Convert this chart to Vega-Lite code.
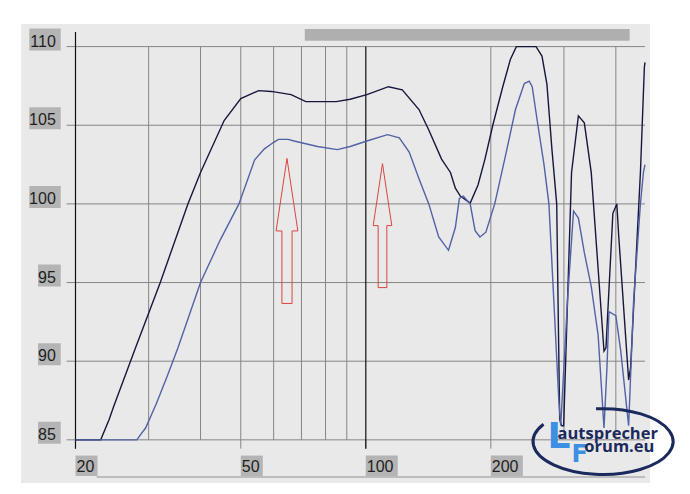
{
  "$schema": "https://vega.github.io/schema/vega-lite/v6.json",
  "width": 629,
  "height": 459,
  "autosize": {"type": "none"},
  "padding": {"left": 21, "top": 24, "right": 40, "bottom": 11},
  "background": "#ffffff",
  "config": {"view": {"fill": "#e9e9e9", "stroke": null}},
  "datasets": {
    "curves": [
      {"f": 20, "db": 85, "s": "dark"},
      {"f": 23.0, "db": 85, "s": "dark"},
      {"f": 24.1, "db": 86.3, "s": "dark"},
      {"f": 24.7, "db": 87.1, "s": "dark"},
      {"f": 27.9, "db": 90.85, "s": "dark"},
      {"f": 32.0, "db": 95.0, "s": "dark"},
      {"f": 37.3, "db": 100.0, "s": "dark"},
      {"f": 40.0, "db": 102.0, "s": "dark"},
      {"f": 45.6, "db": 105.3, "s": "dark"},
      {"f": 50.0, "db": 106.7, "s": "dark"},
      {"f": 55.2, "db": 107.2, "s": "dark"},
      {"f": 59.2, "db": 107.15, "s": "dark"},
      {"f": 66.1, "db": 106.95, "s": "dark"},
      {"f": 71.7, "db": 106.5, "s": "dark"},
      {"f": 84.9, "db": 106.5, "s": "dark"},
      {"f": 91.7, "db": 106.65, "s": "dark"},
      {"f": 100.6, "db": 106.95, "s": "dark"},
      {"f": 113.4, "db": 107.45, "s": "dark"},
      {"f": 122.4, "db": 107.25, "s": "dark"},
      {"f": 134.3, "db": 106.0, "s": "dark"},
      {"f": 141.8, "db": 104.7, "s": "dark"},
      {"f": 152.2, "db": 102.85, "s": "dark"},
      {"f": 159.9, "db": 102.0, "s": "dark"},
      {"f": 164.3, "db": 101.0, "s": "dark"},
      {"f": 168.9, "db": 100.5, "s": "dark"},
      {"f": 178.4, "db": 100.05, "s": "dark"},
      {"f": 186.3, "db": 101.2, "s": "dark"},
      {"f": 193.6, "db": 102.85, "s": "dark"},
      {"f": 202.2, "db": 105.0, "s": "dark"},
      {"f": 213.7, "db": 107.45, "s": "dark"},
      {"f": 223.0, "db": 109.2, "s": "dark"},
      {"f": 230.4, "db": 110, "s": "dark"},
      {"f": 257.0, "db": 110, "s": "dark"},
      {"f": 265.6, "db": 109.4, "s": "dark"},
      {"f": 273.0, "db": 107.6, "s": "dark"},
      {"f": 280.6, "db": 103.5, "s": "dark"},
      {"f": 288.2, "db": 100.0, "s": "dark"},
      {"f": 293.0, "db": 86.3, "s": "dark"},
      {"f": 296.3, "db": 85.9, "s": "dark"},
      {"f": 299.5, "db": 85.9, "s": "dark"},
      {"f": 312.9, "db": 102.0, "s": "dark"},
      {"f": 325.0, "db": 105.6, "s": "dark"},
      {"f": 335.9, "db": 105.15, "s": "dark"},
      {"f": 349.0, "db": 102.0, "s": "dark"},
      {"f": 374.6, "db": 90.65, "s": "dark"},
      {"f": 378.7, "db": 90.85, "s": "dark"},
      {"f": 393.5, "db": 99.4, "s": "dark"},
      {"f": 402.2, "db": 100.0, "s": "dark"},
      {"f": 406.6, "db": 97.9, "s": "dark"},
      {"f": 429.4, "db": 88.8, "s": "dark"},
      {"f": 434.1, "db": 89.6, "s": "dark"},
      {"f": 458.4, "db": 102.0, "s": "dark"},
      {"f": 468.6, "db": 108.7, "s": "dark"},
      {"f": 470.2, "db": 109.0, "s": "dark"},
      {"f": 20, "db": 85, "s": "blue"},
      {"f": 28.1, "db": 85, "s": "blue"},
      {"f": 28.8, "db": 85.4, "s": "blue"},
      {"f": 29.5, "db": 85.75, "s": "blue"},
      {"f": 31.3, "db": 87.3, "s": "blue"},
      {"f": 33.2, "db": 89.0, "s": "blue"},
      {"f": 35.3, "db": 90.85, "s": "blue"},
      {"f": 40.0, "db": 95.0, "s": "blue"},
      {"f": 44.6, "db": 97.7, "s": "blue"},
      {"f": 49.5, "db": 100.0, "s": "blue"},
      {"f": 54.0, "db": 102.8, "s": "blue"},
      {"f": 57.0, "db": 103.5, "s": "blue"},
      {"f": 59.9, "db": 103.9, "s": "blue"},
      {"f": 61.6, "db": 104.1, "s": "blue"},
      {"f": 65.0, "db": 104.1, "s": "blue"},
      {"f": 67.2, "db": 104.0, "s": "blue"},
      {"f": 76.5, "db": 103.65, "s": "blue"},
      {"f": 85.4, "db": 103.45, "s": "blue"},
      {"f": 91.7, "db": 103.65, "s": "blue"},
      {"f": 100.6, "db": 104.0, "s": "blue"},
      {"f": 112.8, "db": 104.4, "s": "blue"},
      {"f": 120.4, "db": 104.2, "s": "blue"},
      {"f": 127.2, "db": 103.3, "s": "blue"},
      {"f": 134.3, "db": 101.6, "s": "blue"},
      {"f": 141.8, "db": 100.0, "s": "blue"},
      {"f": 149.8, "db": 97.9, "s": "blue"},
      {"f": 158.2, "db": 97.05, "s": "blue"},
      {"f": 164.3, "db": 98.5, "s": "blue"},
      {"f": 168.0, "db": 100.35, "s": "blue"},
      {"f": 171.7, "db": 100.5, "s": "blue"},
      {"f": 178.4, "db": 100.0, "s": "blue"},
      {"f": 183.3, "db": 98.3, "s": "blue"},
      {"f": 188.3, "db": 97.9, "s": "blue"},
      {"f": 194.6, "db": 98.2, "s": "blue"},
      {"f": 204.4, "db": 100.0, "s": "blue"},
      {"f": 217.1, "db": 103.1, "s": "blue"},
      {"f": 229.3, "db": 106.0, "s": "blue"},
      {"f": 240.8, "db": 107.65, "s": "blue"},
      {"f": 247.5, "db": 107.8, "s": "blue"},
      {"f": 251.6, "db": 107.45, "s": "blue"},
      {"f": 258.5, "db": 105.35, "s": "blue"},
      {"f": 268.6, "db": 102.5, "s": "blue"},
      {"f": 276.0, "db": 100.0, "s": "blue"},
      {"f": 283.7, "db": 93.8, "s": "blue"},
      {"f": 291.5, "db": 87.55, "s": "blue"},
      {"f": 294.7, "db": 85.9, "s": "blue"},
      {"f": 306.1, "db": 93.95, "s": "blue"},
      {"f": 316.4, "db": 99.55, "s": "blue"},
      {"f": 325.0, "db": 99.1, "s": "blue"},
      {"f": 335.9, "db": 96.9, "s": "blue"},
      {"f": 349.0, "db": 94.75, "s": "blue"},
      {"f": 362.6, "db": 91.65, "s": "blue"},
      {"f": 374.6, "db": 85.75, "s": "blue"},
      {"f": 380.8, "db": 89.6, "s": "blue"},
      {"f": 385.0, "db": 93.15, "s": "blue"},
      {"f": 400.0, "db": 92.9, "s": "blue"},
      {"f": 411.0, "db": 90.66, "s": "blue"},
      {"f": 429.4, "db": 85.9, "s": "blue"},
      {"f": 441.3, "db": 93.8, "s": "blue"},
      {"f": 458.4, "db": 100.0, "s": "blue"},
      {"f": 466.1, "db": 102.0, "s": "blue"},
      {"f": 470.2, "db": 102.5, "s": "blue"}
    ],
    "hgrid": [
      {"db": 85, "label": "85"},
      {"db": 90, "label": "90"},
      {"db": 95, "label": "95"},
      {"db": 100, "label": "100"},
      {"db": 105, "label": "105"},
      {"db": 110, "label": "110"}
    ],
    "vgrid": [
      {"f": 30}, {"f": 40}, {"f": 50}, {"f": 60}, {"f": 70}, {"f": 80}, {"f": 90},
      {"f": 200}, {"f": 300}, {"f": 400}
    ],
    "xlabels": [
      {"f": 20, "label": "20"},
      {"f": 50, "label": "50"},
      {"f": 100, "label": "100"},
      {"f": 200, "label": "200"}
    ],
    "arrows": [
      {"f": 64.6, "db": 98.28, "name": "A"},
      {"f": 109.7, "db": 98.62, "name": "B"}
    ]
  },
  "layer": [
    {
      "data": {"values": [{}]},
      "mark": {"type": "rect", "color": "#afafaf"},
      "encoding": {
        "x": {"datum": 71.3, "scale": {"type": "log", "domain": [15.2, 470.2], "nice": false}, "axis": null},
        "x2": {"datum": 431.9},
        "y": {"datum": 111.12, "scale": {"type": "linear", "domain": [82.574, 111.119], "nice": false, "zero": false}, "axis": null},
        "y2": {"datum": 110.373}
      }
    },
    {
      "data": {"values": [{}]},
      "mark": {"type": "rect", "color": "#bdbdbd"},
      "encoding": {
        "x": {"datum": 22.5, "scale": {"type": "log", "domain": [15.2, 470.2], "nice": false}, "axis": null},
        "x2": {"datum": 470.2},
        "y": {"datum": 82.70, "scale": {"type": "linear", "domain": [82.574, 111.119], "nice": false, "zero": false}, "axis": null},
        "y2": {"datum": 82.574}
      }
    },
    {
      "data": {"name": "hgrid"},
      "mark": {"type": "rule", "color": "#868686", "strokeWidth": 1},
      "encoding": {
        "y": {"field": "db", "type": "quantitative", "scale": {"type": "linear", "domain": [82.574, 111.119], "nice": false, "zero": false}, "axis": null},
        "x": {"datum": 19.03, "scale": {"type": "log", "domain": [15.2, 470.2], "nice": false}, "axis": null},
        "x2": {"datum": 470.2}
      }
    },
    {
      "data": {"name": "vgrid"},
      "mark": {"type": "rule", "color": "#868686", "strokeWidth": 1},
      "encoding": {
        "x": {"field": "f", "type": "quantitative", "scale": {"type": "log", "domain": [15.2, 470.2], "nice": false}, "axis": null},
        "y": {"datum": 85, "scale": {"type": "linear", "domain": [82.574, 111.119], "nice": false, "zero": false}, "axis": null},
        "y2": {"datum": 110}
      }
    },
    {
      "data": {"name": "xlabels"},
      "mark": {"type": "rule", "color": "#868686", "strokeWidth": 1},
      "encoding": {
        "x": {"field": "f", "type": "quantitative", "scale": {"type": "log", "domain": [15.2, 470.2], "nice": false}, "axis": null},
        "y": {"datum": 84.44, "scale": {"type": "linear", "domain": [82.574, 111.119], "nice": false, "zero": false}, "axis": null},
        "y2": {"datum": 85}
      }
    },
    {
      "data": {"values": [{"f": 20}, {"f": 100}]},
      "mark": {"type": "rule", "color": "#111111", "strokeWidth": 1.2},
      "encoding": {
        "x": {"field": "f", "type": "quantitative", "scale": {"type": "log", "domain": [15.2, 470.2], "nice": false}, "axis": null},
        "y": {"datum": 84.44, "scale": {"type": "linear", "domain": [82.574, 111.119], "nice": false, "zero": false}, "axis": null},
        "y2": {"datum": 110}
      }
    },
    {
      "data": {"values": [{"f": 20}]},
      "mark": {"type": "rule", "color": "#111111", "strokeWidth": 1.2},
      "encoding": {
        "x": {"field": "f", "type": "quantitative", "scale": {"type": "log", "domain": [15.2, 470.2], "nice": false}, "axis": null},
        "y": {"datum": 110, "scale": {"type": "linear", "domain": [82.574, 111.119], "nice": false, "zero": false}, "axis": null},
        "y2": {"datum": 110.93}
      }
    },
    {
      "data": {"name": "hgrid"},
      "transform": [{"filter": "length(datum.label) == 3"}],
      "mark": {"type": "bar", "orient": "horizontal", "color": "#b4b4b4", "size": 22, "yOffset": -7},
      "encoding": {
        "y": {"field": "db", "type": "quantitative", "scale": {"type": "linear", "domain": [82.574, 111.119], "nice": false, "zero": false}, "axis": null},
        "x": {"datum": 15.48, "scale": {"type": "log", "domain": [15.2, 470.2], "nice": false}, "axis": null},
        "x2": {"datum": 18.43}
      }
    },
    {
      "data": {"name": "hgrid"},
      "transform": [{"filter": "length(datum.label) == 2"}],
      "mark": {"type": "bar", "orient": "horizontal", "color": "#b4b4b4", "size": 22, "yOffset": -7},
      "encoding": {
        "y": {"field": "db", "type": "quantitative", "scale": {"type": "linear", "domain": [82.574, 111.119], "nice": false, "zero": false}, "axis": null},
        "x": {"datum": 16.25, "scale": {"type": "log", "domain": [15.2, 470.2], "nice": false}, "axis": null},
        "x2": {"datum": 18.43}
      }
    },
    {
      "data": {"name": "hgrid"},
      "mark": {"type": "text", "align": "right", "baseline": "alphabetic", "font": "Liberation Sans", "fontSize": 16, "color": "#1e1e1e"},
      "encoding": {
        "y": {"field": "db", "type": "quantitative", "scale": {"type": "linear", "domain": [82.574, 111.119], "nice": false, "zero": false}, "axis": null},
        "x": {"datum": 17.93, "scale": {"type": "log", "domain": [15.2, 470.2], "nice": false}, "axis": null},
        "text": {"field": "label"}
      }
    },
    {
      "data": {"name": "xlabels"},
      "transform": [{"filter": "length(datum.label) == 2"}],
      "mark": {"type": "bar", "orient": "vertical", "color": "#b4b4b4", "size": 22, "xOffset": 11},
      "encoding": {
        "x": {"field": "f", "type": "quantitative", "scale": {"type": "log", "domain": [15.2, 470.2], "nice": false}, "axis": null},
        "y": {"datum": 84.0, "scale": {"type": "linear", "domain": [82.574, 111.119], "nice": false, "zero": false}, "axis": null},
        "y2": {"datum": 82.70}
      }
    },
    {
      "data": {"name": "xlabels"},
      "transform": [{"filter": "length(datum.label) == 3"}],
      "mark": {"type": "bar", "orient": "vertical", "color": "#b4b4b4", "size": 32, "xOffset": 16},
      "encoding": {
        "x": {"field": "f", "type": "quantitative", "scale": {"type": "log", "domain": [15.2, 470.2], "nice": false}, "axis": null},
        "y": {"datum": 84.0, "scale": {"type": "linear", "domain": [82.574, 111.119], "nice": false, "zero": false}, "axis": null},
        "y2": {"datum": 82.70}
      }
    },
    {
      "data": {"name": "xlabels"},
      "mark": {"type": "text", "align": "left", "baseline": "alphabetic", "dx": 1, "font": "Liberation Sans", "fontSize": 16, "color": "#1e1e1e"},
      "encoding": {
        "x": {"field": "f", "type": "quantitative", "scale": {"type": "log", "domain": [15.2, 470.2], "nice": false}, "axis": null},
        "y": {"datum": 82.95, "scale": {"type": "linear", "domain": [82.574, 111.119], "nice": false, "zero": false}, "axis": null},
        "text": {"field": "label"}
      }
    },
    {
      "data": {"name": "curves"},
      "mark": {"type": "line", "strokeWidth": 1.4, "interpolate": "linear"},
      "encoding": {
        "x": {"field": "f", "type": "quantitative", "scale": {"type": "log", "domain": [15.2, 470.2], "nice": false}, "axis": null},
        "y": {"field": "db", "type": "quantitative", "scale": {"type": "linear", "domain": [82.574, 111.119], "nice": false, "zero": false}, "axis": null},
        "color": {"field": "s", "type": "nominal", "scale": {"domain": ["dark", "blue"], "range": ["#17173d", "#5162a6"]}, "legend": null},
        "order": {"field": "f", "type": "quantitative"}
      }
    },
    {
      "data": {"name": "arrows"},
      "transform": [{"filter": "datum.name == 'A'"}],
      "mark": {"type": "point", "shape": "M0,-1L0.15,0L0.07,0L0.07,1L-0.07,1L-0.07,0L-0.15,0Z", "size": 21025, "filled": false, "stroke": "#d9453f", "strokeWidth": 1, "opacity": 1},
      "encoding": {
        "x": {"field": "f", "type": "quantitative", "scale": {"type": "log", "domain": [15.2, 470.2], "nice": false}, "axis": null},
        "y": {"field": "db", "type": "quantitative", "scale": {"type": "linear", "domain": [82.574, 111.119], "nice": false, "zero": false}, "axis": null}
      }
    },
    {
      "data": {"name": "arrows"},
      "transform": [{"filter": "datum.name == 'B'"}],
      "mark": {"type": "point", "shape": "M0,-1L0.15,0L0.07,0L0.07,1L-0.07,1L-0.07,0L-0.15,0Z", "size": 15376, "filled": false, "stroke": "#d9453f", "strokeWidth": 1, "opacity": 1},
      "encoding": {
        "x": {"field": "f", "type": "quantitative", "scale": {"type": "log", "domain": [15.2, 470.2], "nice": false}, "axis": null},
        "y": {"field": "db", "type": "quantitative", "scale": {"type": "linear", "domain": [82.574, 111.119], "nice": false, "zero": false}, "axis": null}
      }
    },
    {
      "data": {"values": [{}]},
      "mark": {"type": "point", "shape": "M-0.1,-0.47A1,0.47 0 1,1 -0.85,-0.25", "size": 19600, "filled": false, "stroke": "#1b2a5c", "strokeWidth": 3, "opacity": 1},
      "encoding": {
        "x": {"datum": 372.6, "scale": {"type": "log", "domain": [15.2, 470.2], "nice": false}, "axis": null},
        "y": {"datum": 84.88, "scale": {"type": "linear", "domain": [82.574, 111.119], "nice": false, "zero": false}, "axis": null}
      }
    },
    {
      "data": {"values": [{"t": "L"}]},
      "mark": {"type": "text", "align": "left", "baseline": "alphabetic", "font": "DejaVu Sans", "fontWeight": "bold", "fontSize": 36, "color": "#3d8fe3"},
      "encoding": {
        "x": {"datum": 274.0, "scale": {"type": "log", "domain": [15.2, 470.2], "nice": false}, "axis": null},
        "y": {"datum": 84.50, "scale": {"type": "linear", "domain": [82.574, 111.119], "nice": false, "zero": false}, "axis": null},
        "text": {"field": "t"}
      }
    },
    {
      "data": {"values": [{"t": "F"}]},
      "mark": {"type": "text", "align": "left", "baseline": "alphabetic", "font": "DejaVu Sans", "fontWeight": "bold", "fontSize": 24, "color": "#3d8fe3"},
      "encoding": {
        "x": {"datum": 313.0, "scale": {"type": "log", "domain": [15.2, 470.2], "nice": false}, "axis": null},
        "y": {"datum": 83.57, "scale": {"type": "linear", "domain": [82.574, 111.119], "nice": false, "zero": false}, "axis": null},
        "text": {"field": "t"}
      }
    },
    {
      "data": {"values": [{"t": "autsprecher"}]},
      "mark": {"type": "text", "align": "left", "baseline": "alphabetic", "font": "Open Sans", "fontWeight": "bold", "fontSize": 16.5, "color": "#1b2a5c"},
      "encoding": {
        "x": {"datum": 289.5, "scale": {"type": "log", "domain": [15.2, 470.2], "nice": false}, "axis": null},
        "y": {"datum": 85.06, "scale": {"type": "linear", "domain": [82.574, 111.119], "nice": false, "zero": false}, "axis": null},
        "text": {"field": "t"}
      }
    },
    {
      "data": {"values": [{"t": "orum.eu"}]},
      "mark": {"type": "text", "align": "left", "baseline": "alphabetic", "font": "Open Sans", "fontWeight": "bold", "fontSize": 16.5, "color": "#1b2a5c"},
      "encoding": {
        "x": {"datum": 335.9, "scale": {"type": "log", "domain": [15.2, 470.2], "nice": false}, "axis": null},
        "y": {"datum": 84.25, "scale": {"type": "linear", "domain": [82.574, 111.119], "nice": false, "zero": false}, "axis": null},
        "text": {"field": "t"}
      }
    }
  ]
}
